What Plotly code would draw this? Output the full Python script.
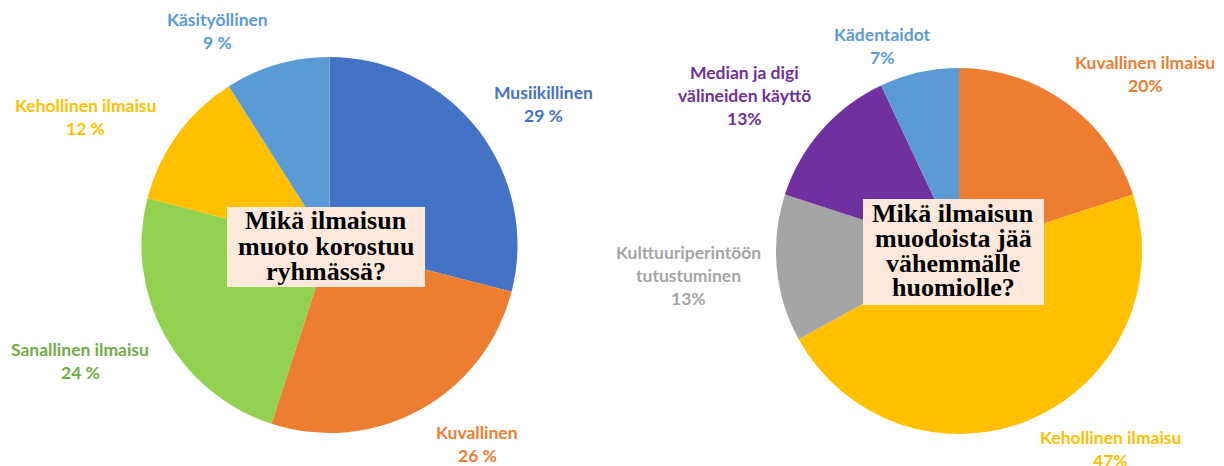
import plotly.graph_objects as go

W, H = 1224, 466

# ---- data ----
left_labels = ["Musiikillinen", "Kuvallinen", "Sanallinen ilmaisu", "Kehollinen ilmaisu", "Käsityöllinen"]
left_values = [29, 26, 24, 12, 9]
left_pct_text = ["29 %", "26 %", "24 %", "12 %", "9 %"]

right_labels = ["Kuvallinen ilmaisu", "Kehollinen ilmaisu", "Kulttuuriperintöön tutustuminen",
                "Median ja digi välineiden käyttö", "Kädentaidot"]
right_values = [20, 47, 13, 13, 7]
right_pct_text = ["20%", "47%", "13%", "13%", "7%"]

left_question = ["Mikä ilmaisun", "muoto korostuu", "ryhmässä?"]
right_question = ["Mikä ilmaisun", "muodoista jää", "vähemmälle", "huomiolle?"]

# ---- styles / layout positions ----
left_colors = ["#4472C4", "#ED7D31", "#92D050", "#FFC000", "#5B9BD5"]
left_text_colors = ["#4472C4", "#ED7D31", "#70AD47", "#FFC000", "#5B9BD5"]
right_colors = ["#ED7D31", "#FFC000", "#A5A5A5", "#7030A0", "#5B9BD5"]
right_text_colors = ["#ED7D31", "#FFC000", "#A5A5A5", "#7030A0", "#5B9BD5"]

# label line splits (display) and pixel anchor of the first line
left_label_lines = [["Musiikillinen"], ["Kuvallinen"], ["Sanallinen ilmaisu"], ["Kehollinen ilmaisu"], ["Käsityöllinen"]]
left_label_pos = [(543, 92), (477, 432), (80, 349), (85, 106), (217, 20)]
right_label_lines = [["Kuvallinen ilmaisu"], ["Kehollinen ilmaisu"], ["Kulttuuriperintöön", "tutustuminen"],
                     ["Median ja digi", "välineiden käyttö"], ["Kädentaidot"]]
right_label_pos = [(1145, 63), (1110, 437), (688, 252), (745, 72), (882, 35)]
LINE = 23


def px(x):
    return x / W


def py(y):
    return 1 - y / H


fig = go.Figure()
fig.add_trace(go.Pie(
    labels=left_labels, values=left_values, sort=False, direction="clockwise", rotation=0,
    marker=dict(colors=left_colors, line=dict(width=0)), textinfo="none", hoverinfo="label+percent",
    domain=dict(x=[px(141), px(518)], y=[py(433), py(57)]), showlegend=False,
))
fig.add_trace(go.Pie(
    labels=right_labels, values=right_values, sort=False, direction="clockwise", rotation=0,
    marker=dict(colors=right_colors, line=dict(width=0)), textinfo="none", hoverinfo="label+percent",
    domain=dict(x=[px(776), px(1142)], y=[py(434), py(68)]), showlegend=False,
))

annotations = []
label_font = "Lato, 'Open Sans', sans-serif"
for lines, pct, pos, col in [(l, p, q, c) for l, p, q, c in zip(left_label_lines, left_pct_text, left_label_pos, left_text_colors)] + \
        [(l, p, q, c) for l, p, q, c in zip(right_label_lines, right_pct_text, right_label_pos, right_text_colors)]:
    allines = lines + [pct]
    for i, t in enumerate(allines):
        annotations.append(dict(
            x=px(pos[0]), y=py(pos[1] + i * LINE), xref="paper", yref="paper",
            text="<b>" + t + "</b>", showarrow=False, xanchor="center", yanchor="middle",
            font=dict(family=label_font, size=17.5, color=col),
        ))

shapes = []
qfont = dict(family="'Liberation Serif', 'Times New Roman', serif", size=26, color="#000000")
for qlines, box, cx, y0, step in [
    (left_question, (227, 207, 425, 287), 326, 221, 25),
    (right_question, (863, 199, 1044, 305), 953, 214, 24.5),
]:
    shapes.append(dict(type="rect", xref="paper", yref="paper",
                       x0=px(box[0]), x1=px(box[2]), y0=py(box[3]), y1=py(box[1]),
                       fillcolor="#FDE9DB", line=dict(width=0), layer="above"))
    for i, t in enumerate(qlines):
        annotations.append(dict(
            x=px(cx), y=py(y0 + i * step), xref="paper", yref="paper",
            text="<b>" + t + "</b>", showarrow=False, xanchor="center", yanchor="middle",
            font=qfont,
        ))

fig.update_layout(
    width=W, height=H, margin=dict(l=0, r=0, t=0, b=0),
    paper_bgcolor="white", plot_bgcolor="white",
    annotations=annotations, shapes=shapes,
)
fig.write_html("out.html")
